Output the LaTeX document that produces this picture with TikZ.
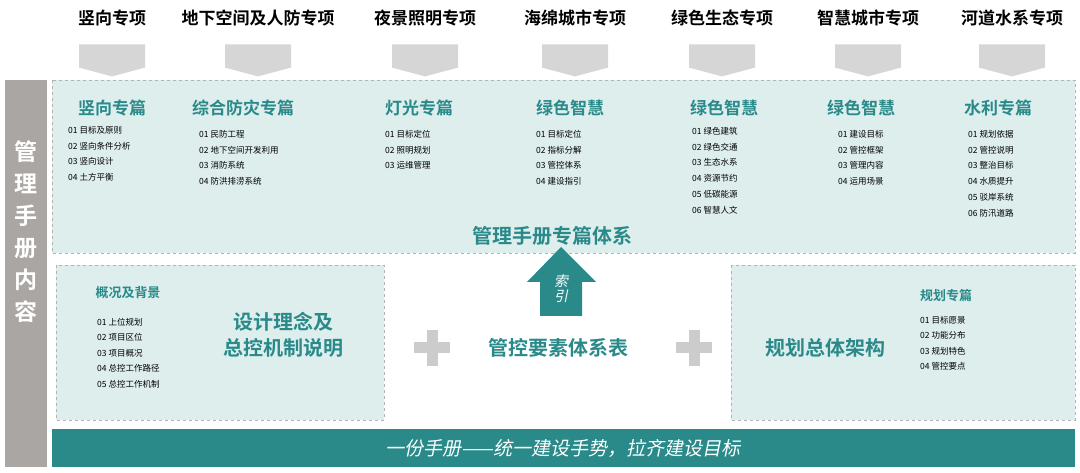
\documentclass[tikz,border=0pt]{standalone}
\usepackage{fontspec}
\setmainfont[BoldFont={Noto Sans CJK SC Bold},AutoFakeSlant=0.2]{Noto Sans CJK SC}
\usetikzlibrary{shapes.arrows}
\definecolor{teal1}{HTML}{2A8A8A}
\definecolor{panel}{HTML}{DDEEED}
\definecolor{side}{HTML}{AAA6A4}
\definecolor{arr}{HTML}{D6D6D6}
\tikzset{x=1pt,y=-1pt,
 top/.style={font=\bfseries\fontsize{17}{17}\selectfont,text=black},
 dn/.style={single arrow,shape border rotate=270,fill=arr,minimum width=66pt,single arrow head extend=0pt,minimum height=32pt,single arrow tip angle=150,inner sep=0pt},
 pan/.style={draw=gray!60,dashed,fill=panel,line width=0.8pt},
 hd/.style={font=\bfseries\fontsize{17}{17}\selectfont,text=teal1},
 big/.style={font=\bfseries\fontsize{20}{26}\selectfont,text=teal1,align=center},
 lst/.style={font=\fontsize{8.5}{15.8}\selectfont,align=left,anchor=north west,inner sep=0pt},
 plus/.style={minimum size=36pt,inner sep=0pt,path picture={\fill[gray!40] ([xshift=-18pt,yshift=-5.5pt]path picture bounding box.center) rectangle ++(36pt,11pt);\fill[gray!40] ([xshift=-5.5pt,yshift=-18pt]path picture bounding box.center) rectangle ++(11pt,36pt);}}}
\begin{document}
\begin{tikzpicture}
\useasboundingbox (0,0) rectangle (1080,473);
\foreach \x/\t [count=\i] in {112/竖向专项,258/地下空间及人防专项,425/夜景照明专项,575/海绵城市专项,722/绿色生态专项,868/智慧城市专项,1012/河道水系专项}{
 \node[top] (t\i) at (\x,18) {\t};
 \node[dn] (d\i) at (\x,56) {};
}
\fill[side] (5,80) rectangle (47,467);
\node[font=\bfseries\fontsize{23}{32}\selectfont,text=white,align=center] (side) at (26,232) {管\\理\\手\\册\\内\\容};
\draw[pan] (52,80) rectangle (1075,253);
\foreach \x/\t [count=\i] in {112/竖向专篇,243/综合防灾专篇,419/灯光专篇,570/绿色智慧,724/绿色智慧,861/绿色智慧,998/水利专篇}{
 \node[hd] (h\i) at (\x,108) {\t};
}
\node[lst] (l1) at (68,126) {01 目标及原则\\02 竖向条件分析\\03 竖向设计\\04 土方平衡};
\node[lst] (l2) at (199,130) {01 民防工程\\02 地下空间开发利用\\03 消防系统\\04 防洪排涝系统};
\node[lst] (l3) at (385,130) {01 目标定位\\02 照明规划\\03 运维管理};
\node[lst] (l4) at (536,130) {01 目标定位\\02 指标分解\\03 管控体系\\04 建设指引};
\node[lst] (l5) at (692,127) {01 绿色建筑\\02 绿色交通\\03 生态水系\\04 资源节约\\05 低碳能源\\06 智慧人文};
\node[lst] (l6) at (838,130) {01 建设目标\\02 管控框架\\03 管理内容\\04 运用场景};
\node[lst] (l7) at (968,130) {01 规划依据\\02 管控说明\\03 整治目标\\04 水质提升\\05 驳岸系统\\06 防汛道路};
\node[big] (sys) at (552,236) {管理手册专篇体系};
\draw[pan] (56,265) rectangle (384,420);
\node[font=\bfseries\fontsize{13}{13}\selectfont,text=teal1] (gk) at (128,293) {概况及背景};
\node[lst,font=\fontsize{8.5}{15.5}\selectfont] (lb) at (97,318) {01 上位规划\\02 项目区位\\03 项目概况\\04 总控工作路径\\05 总控工作机制};
\node[big] (sj) at (283,335) {设计理念及\\总控机制说明};
\node[plus] (p1) at (432,348) {};
\node[big] (gk2) at (558,348) {管控要素体系表};
\fill[teal1] (527,282) -- (561,247) -- (596,282) -- (582,282) -- (582,316) -- (540,316) -- (540,282) -- cycle;
\node[font=\itshape\fontsize{14}{15}\selectfont,text=white,align=center] (sy) at (561,289) {索\\引};
\node[plus] (p2) at (694,348) {};
\draw[pan] (731,265) rectangle (1075,420);
\node[big] (gh) at (825,348) {规划总体架构};
\node[font=\bfseries\fontsize{13}{13}\selectfont,text=teal1] (ghz) at (946,296) {规划专篇};
\node[lst,font=\fontsize{8.5}{15.5}\selectfont] (lr) at (920,316) {01 目标愿景\\02 功能分布\\03 规划特色\\04 管控要点};
\fill[teal1] (52,429) rectangle (1075,467);
\node[font=\itshape\fontsize{19}{19}\selectfont,text=white] (bot) at (563,448) {一份手册——统一建设手势，拉齐建设目标};
\end{tikzpicture}
\end{document}
